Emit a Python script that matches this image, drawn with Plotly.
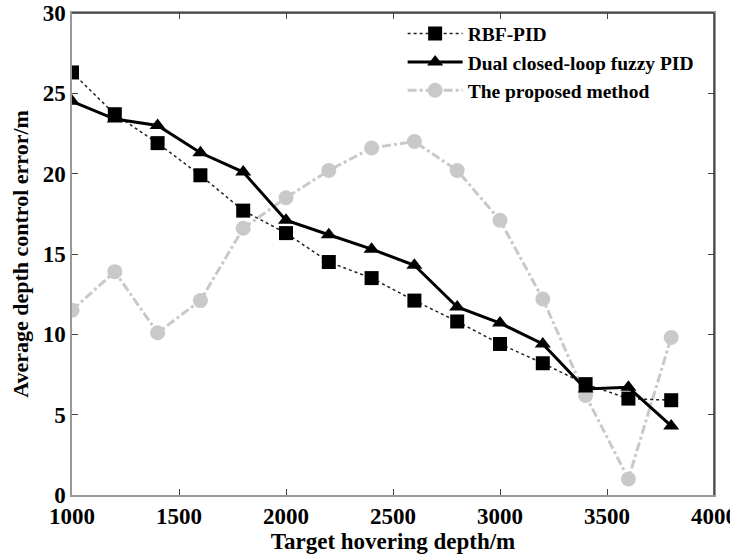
import plotly.graph_objects as go

depth = [1000, 1200, 1400, 1600, 1800, 2000, 2200, 2400, 2600, 2800, 3000, 3200, 3400, 3600, 3800]
rbf_pid = [26.3, 23.7, 21.9, 19.9, 17.7, 16.3, 14.5, 13.5, 12.1, 10.8, 9.4, 8.2, 6.9, 6.0, 5.9]
dual_fuzzy = [24.5, 23.4, 23.0, 21.3, 20.1, 17.1, 16.2, 15.3, 14.3, 11.7, 10.7, 9.4, 6.6, 6.7, 4.3]
proposed = [11.5, 13.9, 10.1, 12.1, 16.6, 18.5, 20.2, 21.6, 22.0, 20.2, 17.1, 12.2, 6.2, 1.0, 9.8]

x_ticks = [1000, 1500, 2000, 2500, 3000, 3500, 4000]
y_ticks = [0, 5, 10, 15, 20, 25, 30]

FONT = "Liberation Serif"

fig = go.Figure()
fig.add_trace(go.Scatter(
    x=depth, y=proposed, name="The proposed method", mode="lines+markers",
    line=dict(color="#c9c9c9", width=3, dash="dashdot"),
    marker=dict(symbol="circle", size=15, color="#c9c9c9"),
))
fig.add_trace(go.Scatter(
    x=depth, y=rbf_pid, name="RBF-PID", mode="lines+markers",
    line=dict(color="#222222", width=1.5, dash="dot"),
    marker=dict(symbol="square", size=14, color="black"),
))
fig.add_trace(go.Scatter(
    x=depth, y=dual_fuzzy, name="Dual closed-loop fuzzy PID", mode="lines+markers",
    line=dict(color="black", width=3),
    marker=dict(symbol="triangle-up", size=14, color="black"),
))

axis_common = dict(
    showgrid=False, zeroline=False, showline=True, linecolor="#999999", linewidth=1.5,
    ticks="inside", ticklen=6, tickcolor="#444444", mirror="ticks",
    tickfont=dict(family=FONT, size=23, color="black", weight="bold"),
    ticklabeloverflow="allow", automargin=False,
)
fig.update_xaxes(range=[1000, 4000], tickvals=x_ticks, ticktext=[str(v) for v in x_ticks],
                 title=dict(text="Target hovering depth/m", standoff=4,
                            font=dict(family=FONT, size=23, color="black", weight="bold")),
                 **axis_common)
fig.update_yaxes(range=[0, 30], tickvals=y_ticks, ticktext=[str(v) for v in y_ticks],
                 title=dict(text="Average depth control error/m", standoff=8,
                            font=dict(family=FONT, size=22, color="black", weight="bold")),
                 **axis_common)

# darker top and right frame lines
fig.add_shape(type="line", xref="paper", yref="paper", x0=0, x1=1, y0=1, y1=1,
              line=dict(color="#333333", width=1.5))
fig.add_shape(type="line", xref="paper", yref="paper", x0=1, x1=1, y0=0, y1=1,
              line=dict(color="#333333", width=1.5))

fig.update_layout(
    width=730, height=559,
    margin=dict(l=72, r=16, t=13, b=64, autoexpand=False),
    paper_bgcolor="white", plot_bgcolor="white",
    font=dict(family=FONT, color="black"),
    legend=dict(
        x=0.515, y=0.997, xanchor="left", yanchor="top",
        bgcolor="rgba(0,0,0,0)", traceorder="normal",
        font=dict(family=FONT, size=19.5, color="black", weight="bold"),
        itemwidth=55, tracegroupgap=0,
    ),
    showlegend=True,
)
# legend order: RBF-PID, Dual, Proposed
fig.data[1].legendrank = 1
fig.data[2].legendrank = 2
fig.data[0].legendrank = 3

fig.write_html("out.html")
